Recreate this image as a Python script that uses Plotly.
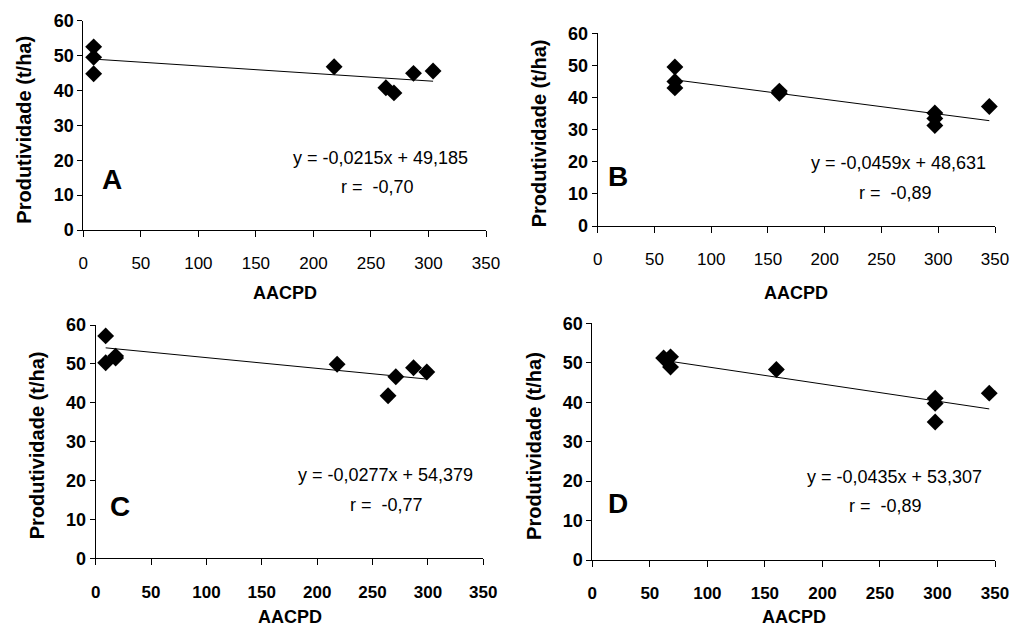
import plotly.graph_objects as go

# ---- data ----
panels = ["A", "B", "C", "D"]
A_x = [9, 9, 9, 218, 263, 270, 287, 304]
A_y = [52.5, 49.5, 44.8, 46.8, 40.8, 39.3, 44.9, 45.6]
B_x = [68, 68, 68, 160, 160, 297, 297, 297, 345]
B_y = [49.5, 45.0, 43.0, 41.3, 42.0, 35.2, 33.5, 31.3, 37.2]
C_x = [9, 9, 18, 18, 218, 264, 271, 287, 299]
C_y = [57.2, 50.3, 51.5, 52.0, 49.9, 41.8, 46.7, 49.0, 47.9]
D_x = [62, 68, 68, 160, 298, 298, 298, 345]
D_y = [51.2, 51.5, 48.9, 48.3, 41.0, 39.7, 35.0, 42.3]
slopes = [-0.0215, -0.0459, -0.0277, -0.0435]
intercepts = [49.185, 48.631, 54.379, 53.307]
trend_x = [[9, 304], [68, 345], [9, 299], [68, 345]]
eq_text = ["y = -0,0215x + 49,185", "y = -0,0459x + 48,631",
           "y = -0,0277x + 54,379", "y = -0,0435x + 53,307"]
r_text = ["r =  -0,70", "r =  -0,89", "r =  -0,77", "r =  -0,89"]
x_ticks = [0, 50, 100, 150, 200, 250, 300, 350]
y_ticks = [0, 10, 20, 30, 40, 50, 60]
x_title = "AACPD"
y_title = "Produtividade (t/ha)"

xs = [A_x, B_x, C_x, D_x]
ys = [A_y, B_y, C_y, D_y]

W, H = 1013, 628
FONT = "Liberation Sans, Arial, sans-serif"

# pixel boxes of plot areas: (left, right, top, bottom)
boxes = [(83.3, 486.0, 20.7, 230.0),
         (597.7, 995.0, 33.3, 226.0),
         (95.7, 483.3, 325.0, 558.3),
         (592.3, 995.0, 323.3, 560.0)]
xtitle_gap = [63, 67, 59, 57]
xbold = [False, False, True, True]
# annotation positions in data coords: eq, r, letter
eq_pos = [(258, 20.5), (265, 19.5), (262, 21.5), (263, 21.0)]
r_pos = [(256, 12.3), (262, 10.2), (263, 13.8), (255, 13.8)]
letter_pos = [(25, 14.5), (18, 15.5), (22, 13.2), (22, 14.2)]

fig = go.Figure()
layout = dict(width=W, height=H, margin=dict(l=0, r=0, t=0, b=0, autoexpand=False),
              paper_bgcolor="white", plot_bgcolor="white", showlegend=False)
annotations = []

for i in range(4):
    sfx = "" if i == 0 else str(i + 1)
    xa, ya = "x" + sfx, "y" + sfx
    l, r, t, b = boxes[i]
    fig.add_trace(go.Scatter(x=xs[i], y=ys[i], mode="markers", xaxis=xa, yaxis=ya,
                             marker=dict(symbol="diamond", size=13, color="black",
                                         line=dict(width=0)), cliponaxis=False))
    lx = trend_x[i]
    ly = [slopes[i] * v + intercepts[i] for v in lx]
    fig.add_trace(go.Scatter(x=lx, y=ly, mode="lines", xaxis=xa, yaxis=ya,
                             line=dict(color="black", width=1)))
    layout["xaxis" + sfx] = dict(
        domain=[l / W, r / W], anchor=ya, range=[0, 350], tickvals=x_ticks,
        automargin=False,
        showgrid=False, zeroline=False, showline=True, linecolor="black", linewidth=1,
        ticks="outside", ticklen=6, tickcolor="black", ticklabelstandoff=12,
        tickfont=dict(family=FONT, size=17, color="black",
                      weight="bold" if xbold[i] else "normal"))
    layout["yaxis" + sfx] = dict(
        domain=[(H - b) / H, (H - t) / H], anchor=xa, range=[0, 60], tickvals=y_ticks,
        automargin=False,
        showgrid=False, zeroline=False, showline=True, linecolor="black", linewidth=1,
        ticks="outside", ticklen=5, tickcolor="black",
        tickfont=dict(family=FONT, size=18, color="black", weight="bold"))
    annotations.append(dict(text=eq_text[i], x=eq_pos[i][0], y=eq_pos[i][1], xref=xa, yref=ya,
                            showarrow=False, font=dict(family=FONT, size=18, color="black")))
    annotations.append(dict(text=r_text[i], x=r_pos[i][0], y=r_pos[i][1], xref=xa, yref=ya,
                            showarrow=False, font=dict(family=FONT, size=18, color="black")))
    annotations.append(dict(text="<b>" + panels[i] + "</b>", x=letter_pos[i][0], y=letter_pos[i][1],
                            xref=xa, yref=ya, showarrow=False,
                            font=dict(family=FONT, size=28, color="black")))
    # axis titles
    annotations.append(dict(text="<b>" + x_title + "</b>", x=(l + r) / 2 / W,
                            y=(H - (b + xtitle_gap[i])) / H, xref="paper", yref="paper",
                            xanchor="center", yanchor="middle",
                            showarrow=False, font=dict(family=FONT, size=18, color="black")))
    annotations.append(dict(text="<b>" + y_title + "</b>", x=(l - 59) / W,
                            y=(H - (t + b) / 2 - 4) / H, xref="paper", yref="paper",
                            xanchor="center", yanchor="middle",
                            textangle=-90, showarrow=False,
                            font=dict(family=FONT, size=20, color="black")))

layout["annotations"] = annotations
fig.update_layout(**layout)
fig.write_html("out.html", config={"displayModeBar": False},
               post_script="document.body.style.margin='0';document.body.style.overflow='hidden';")
